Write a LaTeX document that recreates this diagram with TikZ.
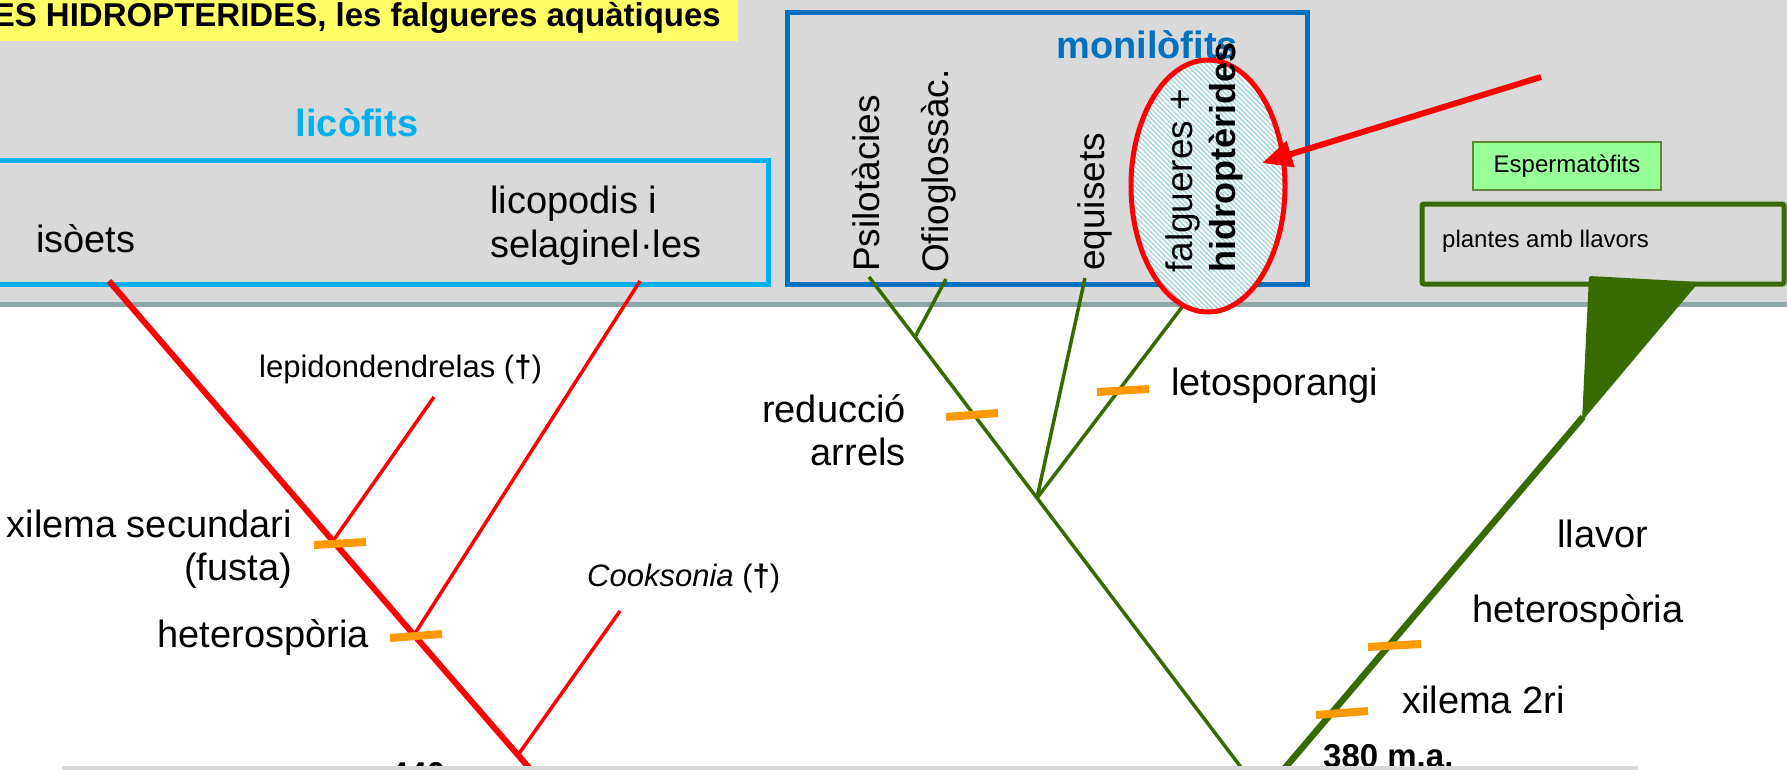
\documentclass[tikz,border=0pt]{standalone}
\usepackage{fontspec}
\setmainfont{Liberation Sans}
\usetikzlibrary{arrows.meta,shapes.geometric,patterns.meta}
\definecolor{bggrey}{HTML}{D9D9D9}
\definecolor{sepgrey}{HTML}{8EA8AA}
\definecolor{lycocyan}{HTML}{00B0F0}
\definecolor{monoblue}{HTML}{0070C0}
\definecolor{treegreen}{HTML}{386A00}
\definecolor{tickorange}{HTML}{FF9900}
\definecolor{seedgreen}{HTML}{99FF99}
\definecolor{titleyellow}{HTML}{FFFF66}
\definecolor{hatchcyan}{HTML}{A8D8DA}
\begin{document}
\begin{tikzpicture}[x=1pt,y=-1pt,
  txt/.style={inner sep=0pt, font=\fontsize{38}{44}\selectfont},
  smalltxt/.style={inner sep=0pt, font=\fontsize{31}{36}\selectfont},
  boxtxt/.style={inner sep=0pt, font=\fontsize{24}{28}\selectfont},
  grouptitle/.style={inner sep=0pt, font=\bfseries\fontsize{38}{44}\selectfont},
  agetxt/.style={inner sep=0pt, font=\bfseries\fontsize{33}{38}\selectfont},
  vtxt/.style={inner sep=0pt, rotate=90, anchor=base west, font=\fontsize{37}{42}\selectfont},
  redthick/.style={draw=red, line width=6pt},
  redthin/.style={draw=red, line width=3.5pt},
  greenthin/.style={draw=treegreen, line width=3.5pt},
  greenthick/.style={draw=treegreen, line width=6.5pt},
  synapo/.style={draw=tickorange, line width=8pt},
]
\useasboundingbox (0,0) rectangle (1787,769);
\clip (0,0) rectangle (1787,769);
\fill[white] (0,0) rectangle (1787,769);
\fill[bggrey] (0,0) rectangle (1787,302);
\draw[sepgrey, line width=5pt] (0,304) -- (1787,304);

% title
\fill[titleyellow] (0,0) rectangle (738,41);
\node[anchor=base east, inner sep=0pt, font=\bfseries\fontsize{33}{37}\selectfont] (title) at (721,26) {ES HIDROPTERIDES, les falgueres aquàtiques};

% group boxes
\draw[lycocyan, line width=5pt] (-20,160) rectangle (768,284);
\draw[monoblue, line width=5pt] (787,12) rectangle (1307,284);
\node[draw=treegreen!80, fill=seedgreen, line width=2pt, minimum width=188pt, minimum height=48pt, inner sep=0pt, boxtxt] (esp) at (1567,166) {Espermatòfits};
\node[draw=treegreen, line width=5pt, rounded corners=2pt, minimum width=362pt, minimum height=80pt, inner sep=0pt] (seedbox) at (1603,244) {};
\node[boxtxt, anchor=base west] (plantes) at (1442,247) {plantes amb llavors};

\node[grouptitle, text=lycocyan, anchor=base] (lyco) at (357,136) {licòfits};
\node[grouptitle, text=monoblue, anchor=base] (mono) at (1147,58) {monilòfits};

\node[txt, anchor=base west] (isoetes) at (36,252) {isòets};
\node[txt, anchor=base west] (lico1) at (490,213) {licopodis i};
\node[txt, anchor=base west] (lico2) at (490,257) {selaginel·les};

% tree coordinates
\coordinate (isoTip) at (109,281);
\coordinate (licoTip) at (640,281);
\coordinate (lepiTip) at (434,397);
\coordinate (cookTip) at (620,611);
\coordinate (nLepi) at (333,541);
\coordinate (nLico) at (414,635);
\coordinate (nCook) at (518,755);
\coordinate (redRoot) at (557,800);

\coordinate (psiTip) at (869,277);
\coordinate (ofiTip) at (946,279);
\coordinate (equTip) at (1085,278);
\coordinate (fernTip) at (1195,290);
\coordinate (nPsi) at (915,337);
\coordinate (nMon) at (1037,498);
\coordinate (greenRoot) at (1262,795);
\coordinate (seedTip) at (1583,417);

% lycophyte tree
\draw[redthick] (isoTip) -- (nLepi) -- (nLico) -- (nCook) -- (redRoot);
\draw[redthin] (licoTip) -- (nLico);
\draw[redthin] (lepiTip) -- (nLepi);
\draw[redthin] (cookTip) -- (nCook);

% monilophyte tree
\draw[greenthin] (psiTip) -- (nPsi) -- (nMon) -- (greenRoot);
\draw[greenthin] (ofiTip) -- (nPsi);
\draw[greenthin] (equTip) -- (nMon);
\draw[greenthin] (fernTip) -- (nMon);

% seed plants
\draw[greenthick] (greenRoot) -- (seedTip);
\fill[treegreen, rounded corners=1.5pt] (1582,421) -- (1589,276) -- (1699,282) -- cycle;

% synapomorphy ticks
\draw[synapo] (314,545) -- (366,542);
\draw[synapo] (390,638) -- (442,634);
\draw[synapo] (946,417) -- (998,413);
\draw[synapo] (1097,392) -- (1149,389);
\draw[synapo] (1368,647) -- (1421,644);
\draw[synapo] (1316,715) -- (1368,711);

% labels on the trees
\node[smalltxt, anchor=base west] (lepi) at (259,377) {lepidondendrelas (\textbf{†})};
\node[txt, anchor=base east] (xil1) at (292,537) {xilema secundari};
\node[txt, anchor=base east] (xil2) at (292,580) {(fusta)};
\node[txt, anchor=base east] (het1) at (369,647) {heterospòria};
\node[smalltxt, anchor=base west] (cook) at (587,586) {\textit{Cooksonia} (\textbf{†})};
\node[txt, anchor=base east] (red1) at (906,422) {reducció};
\node[txt, anchor=base east] (red2) at (906,465) {arrels};
\node[txt, anchor=base west] (leto) at (1171,395) {letosporangi};
\node[txt, anchor=base west] (llav) at (1557,547) {llavor};
\node[txt, anchor=base west] (het2) at (1472,622) {heterospòria};
\node[txt, anchor=base west] (xil3) at (1402,713) {xilema 2ri};
\node[agetxt, anchor=base west] (age1) at (1323,767) {380 m.a.};
\node[agetxt, anchor=base west] (age2) at (390,785) {440 m.a.};

% ferns ellipse
\node[ellipse, draw=red, line width=5pt, minimum width=154pt, minimum height=252pt, inner sep=0pt,
  preaction={fill=white}, pattern={Lines[angle=-45,distance=3.5pt,line width=1.5pt]}, pattern color=hatchcyan] (ferns) at (1208,186) {};

% vertical labels
\node[vtxt] (psi) at (879,272) {Psilotàcies};
\node[vtxt] (ofi) at (948,273) {Ofioglossàc.};
\node[vtxt] (equ) at (1104,271) {equisets};
\node[vtxt] (fal) at (1192,273) {falgueres +};
\node[vtxt, font=\bfseries\fontsize{36}{42}\selectfont] (hid) at (1235,273) {hidroptèrides};

% pointer arrow
\coordinate (arrTail) at (1541,77);
\coordinate (arrTip) at (1262,163);
\draw[red, line width=6pt, -{Triangle[length=30pt,width=26pt]}] (arrTail) -- (arrTip);

% bottom strip
\fill[bggrey] (62,766) rectangle (1638,790);
\end{tikzpicture}
\end{document}
